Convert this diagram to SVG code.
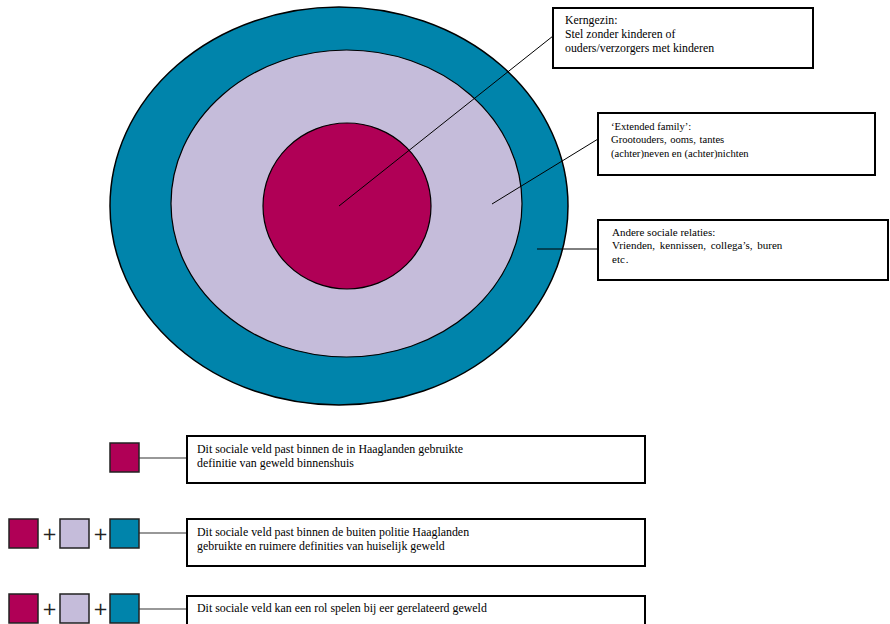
<svg xmlns="http://www.w3.org/2000/svg" width="890" height="624" viewBox="0 0 890 624">
<style>
.t{font-family:"Liberation Serif","Times New Roman",serif;fill:#000}
.k{font-size:11.8px}
.e{font-size:10.6px}
.a{font-size:11px}
.g{font-size:11.9px}
.box{fill:#fff;stroke:#000;stroke-width:2}
.ln{stroke:#000;stroke-width:1;fill:none}
.ln2{stroke:#333;stroke-width:1.2;fill:none}
.m{fill:#B00056;stroke:#222;stroke-width:1.5}
.l{fill:#C5BCDA;stroke:#222;stroke-width:1.5}
.c{fill:#0084AB;stroke:#222;stroke-width:1.5}
.plus{font-family:"DejaVu Sans","Liberation Sans",sans-serif;font-size:18px;fill:#222}
</style>
<g id="rings">
<ellipse id="outer" cx="339" cy="206" rx="229" ry="199" fill="#0084AB" stroke="#000" stroke-width="1.5"/>
<ellipse id="middle" cx="346.5" cy="203.5" rx="175.5" ry="153.5" fill="#C5BCDA" stroke="#000" stroke-width="1.2"/>
<ellipse id="inner" cx="347" cy="206" rx="84" ry="83" fill="#B00056" stroke="#000" stroke-width="1.2"/>
</g>
<g id="connectors">
<line class="ln" x1="339" y1="206" x2="553" y2="36"/>
<line class="ln" x1="492" y1="204" x2="598" y2="139"/>
<line class="ln" x1="537" y1="249" x2="598" y2="249"/>
<line class="ln2" x1="139" y1="458" x2="187" y2="458"/>
<line class="ln2" x1="139" y1="533" x2="187" y2="533"/>
<line class="ln2" x1="139" y1="609" x2="187" y2="609"/>
</g>
<g id="label-kerngezin">
<rect class="box" x="553" y="8" width="260" height="60"/>
<text class="t k" x="565" y="24">Kerngezin:</text>
<text class="t k" x="565" y="38">Stel zonder kinderen of</text>
<text class="t k" x="565" y="52">ouders/verzorgers met kinderen</text>
</g>
<g id="label-extended">
<rect class="box" x="598" y="113" width="277" height="62"/>
<text class="t e" x="611" y="130">‘Extended family’:</text>
<text class="t e" x="611" y="143">Grootouders, <tspan dx="1">ooms, </tspan><tspan dx="1">tantes</tspan></text>
<text class="t e" x="611" y="157">(achter)neven en (achter)nichten</text>
</g>
<g id="label-andere">
<rect class="box" x="598" y="220" width="290" height="60"/>
<text class="t a" x="612" y="236">Andere sociale relaties:</text>
<text class="t a" x="612" y="249">Vrienden, <tspan dx="2">kennissen, </tspan><tspan dx="2">collega’s, </tspan><tspan dx="2">buren</tspan></text>
<text class="t a" x="612" y="263">etc<tspan dx="1">.</tspan></text>
</g>
<g id="legend-1">
<rect class="m" x="110" y="443" width="29" height="29"/>
<rect class="box" x="187" y="436" width="458" height="47"/>
<text class="t g" x="197" y="453">Dit sociale veld past binnen de in Haaglanden gebruikte</text>
<text class="t g" x="197" y="467">definitie van geweld binnenshuis</text>
</g>
<g id="legend-2">
<rect class="m" x="9" y="519" width="29" height="29"/>
<text class="plus" x="42" y="540">+</text>
<rect class="l" x="60" y="519" width="29" height="29"/>
<text class="plus" x="93" y="540">+</text>
<rect class="c" x="110" y="519" width="29" height="29"/>
<rect class="box" x="187" y="519" width="458" height="47"/>
<text class="t g" x="197" y="536">Dit sociale veld past binnen de buiten politie Haaglanden</text>
<text class="t g" x="197" y="550">gebruikte en ruimere definities van huiselijk geweld</text>
</g>
<g id="legend-3">
<rect class="m" x="9" y="594" width="29" height="29"/>
<text class="plus" x="42" y="615">+</text>
<rect class="l" x="60" y="594" width="29" height="29"/>
<text class="plus" x="93" y="615">+</text>
<rect class="c" x="110" y="594" width="29" height="29"/>
<rect class="box" x="187" y="596" width="458" height="40"/>
<text class="t g" x="197" y="612">Dit sociale veld kan een rol spelen bij eer gerelateerd geweld</text>
</g>
</svg>
